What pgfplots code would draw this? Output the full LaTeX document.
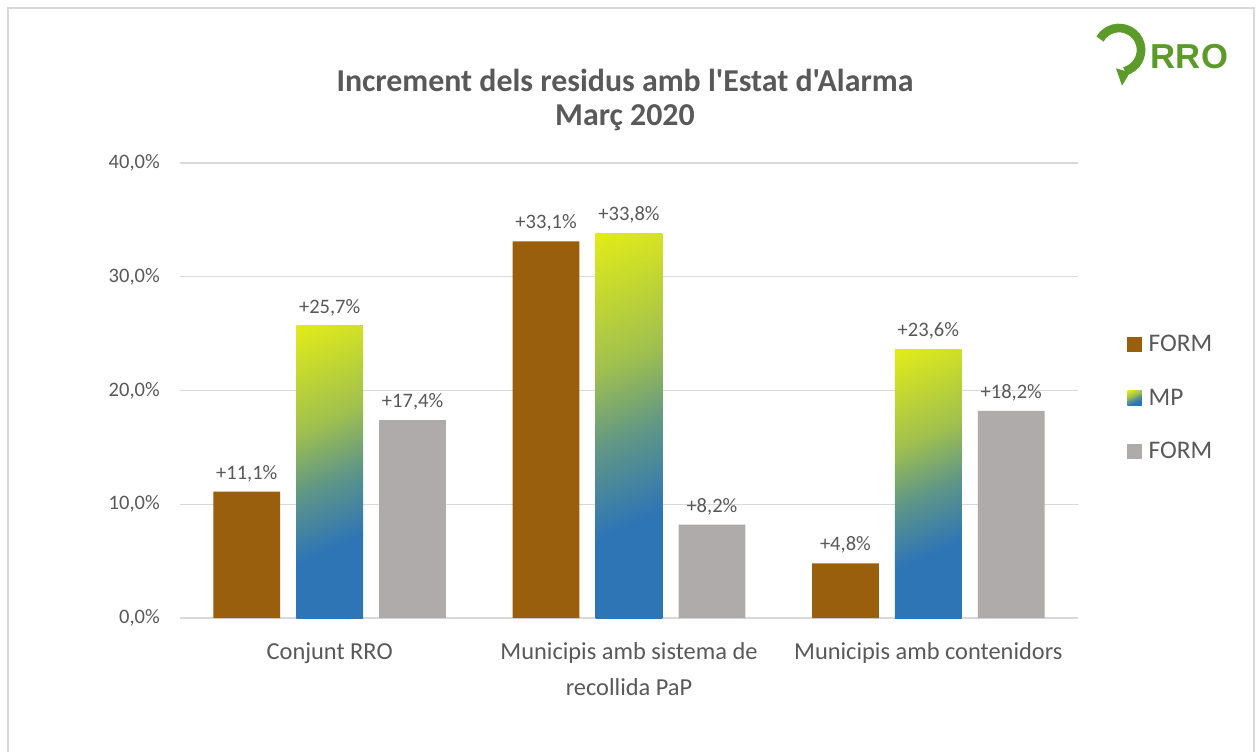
\documentclass[border=0pt]{standalone}
\usepackage{pgfplots}
\pgfplotsset{compat=1.18}
\usepackage{fontspec}
\setmainfont{Carlito}[Ligatures=TeXOff]
\newfontfamily\logofont{Liberation Sans}
\definecolor{textgray}{RGB}{89,89,89}
\definecolor{gridgray}{RGB}{217,217,217}
\definecolor{formbrown}{RGB}{153,95,12}
\definecolor{formgray}{RGB}{175,171,171}
\definecolor{mpblue}{RGB}{46,117,182}
\definecolor{mpyellow}{RGB}{255,255,0}
\definecolor{mpteal}{RGB}{95,150,135}
\definecolor{mpolive}{RGB}{160,192,78}
\definecolor{logogreen}{RGB}{92,155,42}
\pgfdeclareverticalshading{mpshade}{100bp}{color(0bp)=(mpblue); color(34bp)=(mpblue); color(48bp)=(mpteal); color(61bp)=(mpolive); color(93bp)=(mpyellow); color(100bp)=(mpyellow)}
\begin{document}
\begin{tikzpicture}
\useasboundingbox (0,0) rectangle (942pt,563.25pt);
\fill[white] (0,0) rectangle (942pt,563.25pt);
\draw[gridgray, line width=1.1pt] (6pt,-5pt) -- (6pt,557.25pt) -- (940.5pt,557.25pt) -- (940.5pt,-5pt);
\node[font=\bfseries\fontsize{23.9}{28}\selectfont, text=textgray] at (468.75pt,503.25pt) {Increment dels residus amb l'Estat d'Alarma};
\node[font=\bfseries\fontsize{23.9}{28}\selectfont, text=textgray] at (468.75pt,474.75pt) {Març 2020};
% logo
\draw[logogreen, line width=6.5pt] (825pt,534pt) arc[start angle=150, end angle=-75, radius=16.5pt];
\fill[logogreen] (837pt,512pt) -- (847.5pt,509pt) -- (841.5pt,499pt) -- cycle;
\node[font=\logofont\bfseries\fontsize{26}{30}\selectfont, text=logogreen, anchor=west, inner sep=0pt] at (863pt,521pt) {RRO};
\begin{axis}[
  at={(135pt,99.75pt)}, anchor=south west,
  scale only axis, width=673.5pt, height=341.25pt,
  xmin=-0.5, xmax=2.5, ymin=0, ymax=40,
  ybar, bar width=0.223,
  legend image code/.code={\path[#1,draw=none] (0pt,-5.5pt) rectangle (11pt,5.5pt);},
  axis line style={draw=none},
  ymajorgrids, grid style={draw=gridgray, line width=0.8pt},
  major tick length=0pt,
  ytick={0,10,20,30,40},
  yticklabels={{0,0\%},{10,0\%},{20,0\%},{30,0\%},{40,0\%}},
  yticklabel style={inner sep=0pt, xshift=-15pt, font=\fontsize{15.4}{18}\selectfont, text=textgray},
  xtick={0,1,2},
  xticklabels={Conjunt RRO,{Municipis amb sistema de\\recollida PaP},Municipis amb contenidors},
  xticklabel style={inner sep=0pt, yshift=-18pt, align=center, font=\fontsize{18.3}{27}\selectfont, text=textgray},
  point meta=explicit symbolic,
  nodes near coords,
  every node near coord/.append style={font=\fontsize{15.4}{18}\selectfont, text=textgray, anchor=south, inner sep=0pt, yshift=7.3pt},
  legend style={at={(1.0546,0.4835)}, anchor=west, draw=none, fill=none, inner sep=0pt, row sep=22.5pt, font=\fontsize{19}{22}\selectfont, text=textgray, nodes={inner xsep=5pt}},
  legend cell align=left,
  clip=false,
]
\addplot[fill=formbrown, draw=none, bar shift=-0.277] coordinates {(0,11.1) [+11,1\%] (1,33.1) [+33,1\%] (2,4.8) [+4,8\%]};
\addplot[shading=mpshade, shading angle=24, draw=none, bar shift=0] coordinates {(0,25.7) [+25,7\%]};
\addplot[shading=mpshade, shading angle=24, draw=none, bar shift=0, forget plot] coordinates {(1,33.8) [+33,8\%]};
\addplot[shading=mpshade, shading angle=24, draw=none, bar shift=0, forget plot] coordinates {(2,23.6) [+23,6\%]};
\addplot[fill=formgray, draw=none, bar shift=0.277] coordinates {(0,17.4) [+17,4\%] (1,8.2) [+8,2\%] (2,18.2) [+18,2\%]};
\legend{FORM,MP,FORM}
\end{axis}
\end{tikzpicture}
\end{document}
